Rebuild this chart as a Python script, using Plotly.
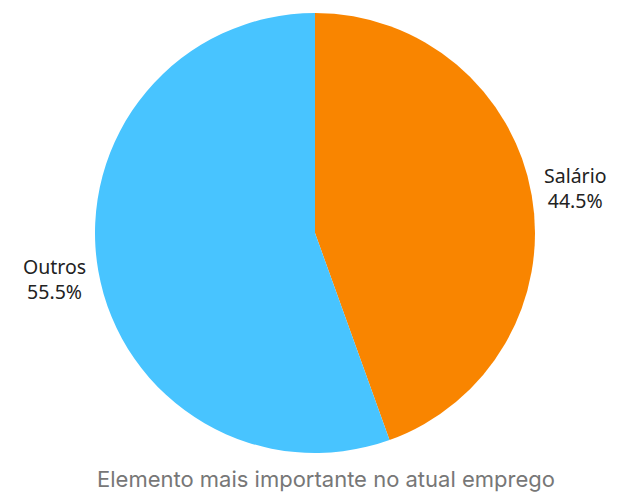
import math
import plotly.graph_objects as go

labels = ["Salário", "Outros"]
values = [44.5, 55.5]
colors = ["#F98500", "#48C4FF"]
title_text = "Elemento mais importante no atual emprego"

# the page body adds an 8px margin, so the figure is sized to fit the window
W, H = 609, 485
ML, MR, MT, MB = 0, 0, 5, 40
PW, PH = W - ML - MR, H - MT - MB
CX, CY, R = 307, 225, 220          # pie centre / radius in figure pixels
LABEL_GAP = 11                     # distance of outside labels beyond the rim

fig = go.Figure(go.Pie(
    labels=labels,
    values=values,
    marker=dict(colors=colors, line=dict(width=0)),
    sort=False,
    direction="clockwise",
    rotation=0,
    textinfo="none",
    showlegend=False,
    hoverinfo="skip",
    domain=dict(x=[(CX - R - ML) / PW, (CX + R - ML) / PW],
                y=[(MT + PH - (CY + R)) / PH, (MT + PH - (CY - R)) / PH]),
))

# outside labels, placed from the slice mid-angles computed from the data
total = sum(values)
annotations = []
cum = 0.0
for lab, v in zip(labels, values):
    mid = math.radians(90 - 360 * (cum + v / 2) / total)
    cum += v
    dx, dy = math.cos(mid), math.sin(mid)
    px = CX + (R + LABEL_GAP) * dx
    py = CY - (R + LABEL_GAP) * dy
    annotations.append(dict(
        text=f"{lab}<br>{100 * v / total:.1f}%",
        xref="paper", yref="paper",
        x=(px - ML) / PW, y=(MT + PH - py) / PH,
        xanchor="left" if dx >= 0 else "right", yanchor="middle",
        yshift=5 if dy >= 0 else -6,
        showarrow=False, align="center", borderpad=0,
        font=dict(family="Noto Sans", size=19.5, color="#222222"),
    ))

annotations.append(dict(
    text=title_text, xref="paper", yref="paper",
    x=(326 - 8 - ML) / PW, y=-26 / PH, yanchor="middle", xanchor="center",
    showarrow=False,
    font=dict(family="Inter", size=22, color="#777777"),
))

fig.update_layout(
    width=W, height=H,
    margin=dict(l=ML, r=MR, t=MT, b=MB),
    paper_bgcolor="white",
    plot_bgcolor="white",
    annotations=annotations,
)

fig.write_html("out.html")
